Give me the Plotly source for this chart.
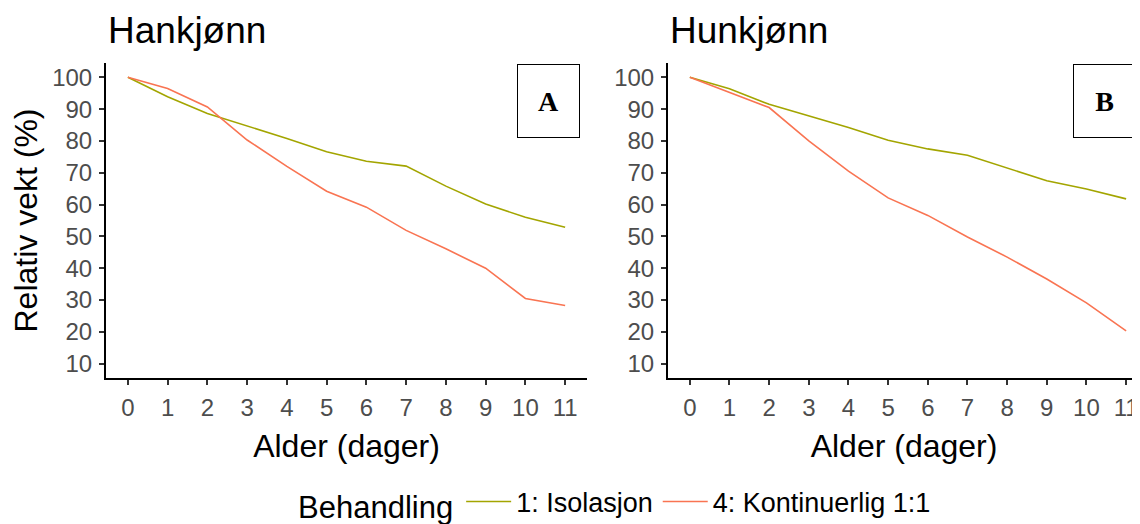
import plotly.graph_objects as go

days = list(range(12))
male_iso = [100, 93.9, 88.6, 84.8, 80.8, 76.6, 73.6, 72.1, 65.8, 60.2, 56.0, 52.9]
male_kont = [100, 96.5, 90.7, 80.3, 72.0, 64.2, 59.2, 51.9, 46.1, 40.0, 30.5, 28.3]
female_iso = [100, 96.4, 91.5, 87.8, 84.2, 80.2, 77.5, 75.5, 71.5, 67.5, 64.9, 61.8]
female_kont = [100, 95.2, 90.5, 80.0, 70.5, 62.1, 56.6, 49.8, 43.5, 36.6, 29.1, 20.3]

series_names = ["1: Isolasjon", "4: Kontinuerlig 1:1"]
colors = ["#A3A500", "#F97452"]
y_ticks = list(range(10, 101, 10))
panel_titles = ["Hankjønn", "Hunkjønn"]
panel_labels = ["A", "B"]

FONT = "Liberation Sans, Arial, sans-serif"

fig = go.Figure()
for i, (vals, xa, ya) in enumerate([(male_iso, "x", "y"), (female_iso, "x2", "y2")]):
    fig.add_trace(go.Scatter(x=days, y=vals, mode="lines", name=series_names[0],
                             line=dict(color=colors[0], width=1.6), xaxis=xa, yaxis=ya,
                             legendgroup="iso", showlegend=(i == 0)))
for i, (vals, xa, ya) in enumerate([(male_kont, "x", "y"), (female_kont, "x2", "y2")]):
    fig.add_trace(go.Scatter(x=days, y=vals, mode="lines", name=series_names[1],
                             line=dict(color=colors[1], width=1.6), xaxis=xa, yaxis=ya,
                             legendgroup="kont", showlegend=(i == 0)))

axis_common = dict(showline=True, linecolor="black", linewidth=2, mirror=False,
                   ticks="outside", ticklen=5, tickwidth=2, tickcolor="#333333",
                   showgrid=False, zeroline=False, ticklabelstandoff=2,
                   tickfont=dict(family=FONT, size=24, color="#4D4D4D"))

# page body has an 8px margin: figure drawn 8px right/down
OFF = 8
W, H = 1140 - OFF, 524 - OFF
ml, mr, mt = 106 - OFF, 0, 62.6 - OFF
bottom = 378.4 - OFF
mb = H - bottom
pw = W - ml - mr
ph = bottom - mt


def py(y_screen):
    return (bottom - (y_screen - OFF)) / ph


def px(x_screen):
    return (x_screen - OFF - ml) / pw


title_font = dict(size=32, color="black")
fig.update_layout(
    width=W, height=H,
    margin=dict(l=ml, r=mr, t=mt, b=mb, autoexpand=False),
    paper_bgcolor="white", plot_bgcolor="white",
    font=dict(family=FONT, color="black"),
    xaxis=dict(domain=[0, px(587)], range=[-0.55, 11.55], tickvals=days,
               title=dict(text="Alder (dager)", font=title_font),
               anchor="y", **axis_common),
    yaxis=dict(domain=[0, 1], range=[5.5, 104.5], tickvals=y_ticks,
               title=dict(text="Relativ vekt (%)", font=title_font),
               anchor="x", **axis_common),
    xaxis2=dict(domain=[px(668), 1], range=[-0.55, 11.35], tickvals=days,
                ticklabeloverflow="allow",
                title=dict(text="Alder (dager)", font=title_font),
                anchor="y2", **axis_common),
    yaxis2=dict(domain=[0, 1], range=[5.5, 104.5], tickvals=y_ticks,
                anchor="x2", **axis_common),
    legend=dict(orientation="h", x=px(296), xanchor="left",
                yref="container", y=(H - (503 - OFF)) / H, yanchor="middle", itemwidth=45,
                title=dict(text="Behandling", font=dict(size=31, color="black")),
                font=dict(size=27, color="black"), bgcolor="rgba(0,0,0,0)"),
    showlegend=True,
)

for i, xd in enumerate(["x domain", "x2 domain"]):
    fig.add_annotation(text=panel_titles[i], xref=xd, yref="paper", x=0, y=py(30),
                       xanchor="left", yanchor="middle", showarrow=False,
                       font=dict(family=FONT, size=37, color="black"))

box_centers = [548.5, 1104]
for i, cx in enumerate(box_centers):
    fig.add_annotation(text="<b>%s</b>" % panel_labels[i], xref="paper", yref="paper",
                       x=px(cx), y=py(101), xanchor="center", yanchor="middle",
                       showarrow=False, width=61, height=72, borderpad=0, borderwidth=1,
                       bordercolor="black", bgcolor="white",
                       font=dict(family="Liberation Serif, Times New Roman, serif", size=28, color="black"))

fig.write_html("out.html", post_script="document.documentElement.style.overflow='hidden';")
